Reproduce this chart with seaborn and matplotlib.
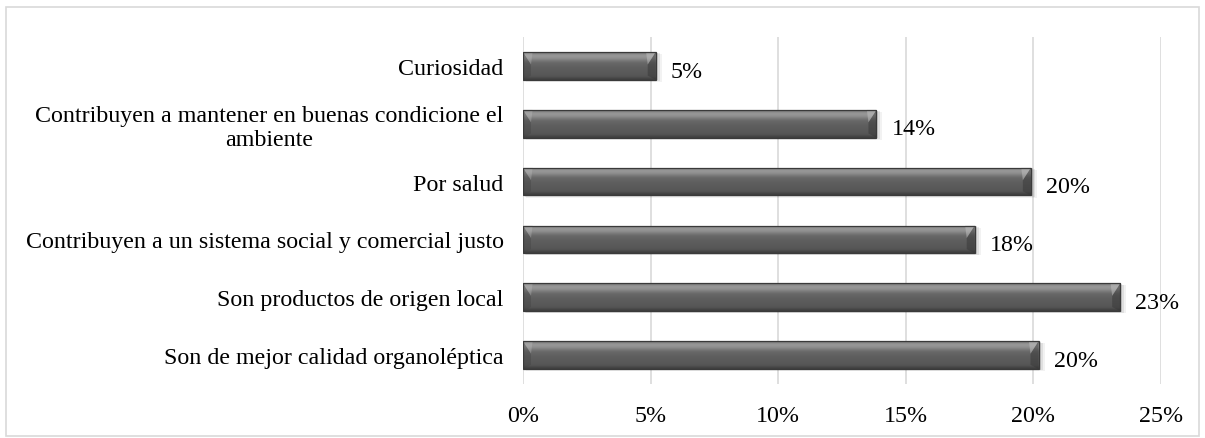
import numpy as np
import pandas as pd
import matplotlib
matplotlib.use("Agg")
import matplotlib.pyplot as plt
import seaborn as sns
from matplotlib.patches import Rectangle, Polygon

categories = [
    "Curiosidad",
    "Contribuyen a mantener en buenas condicione el\nambiente",
    "Por salud",
    "Contribuyen a un sistema social y comercial justo",
    "Son productos de origen local",
    "Son de mejor calidad organoléptica",
]
values = [5.2, 13.85, 19.9, 17.7, 23.4, 20.2]
value_labels = ["5%", "14%", "20%", "18%", "23%", "20%"]
xticks = [0, 5, 10, 15, 20, 25]
xtick_labels = ["0%", "5%", "10%", "15%", "20%", "25%"]

sns.set_theme(style="white")
plt.rcParams["font.family"] = ["Liberation Serif", "DejaVu Serif"]

FS = 17.3
df = pd.DataFrame({"cat": categories, "val": values})

fig = plt.figure(figsize=(12.05, 4.39), dpi=100)
ax = fig.add_axes([523 / 1205, 1 - 385 / 439, (1161 - 523) / 1205, (385 - 38) / 439])

sns.barplot(data=df, x="val", y="cat", ax=ax, color="#595959", width=0.48,
            saturation=1, edgecolor="none", zorder=3)

ax.set_xlim(0, 25)
ax.set_xticks(xticks)
ax.set_xticklabels(xtick_labels, fontsize=FS, color="#000000")
ax.tick_params(axis="x", pad=15, length=0)
ax.tick_params(axis="y", length=0, pad=14)
for lab in ax.get_yticklabels():
    lab.set_fontsize(FS)
    lab.set_multialignment("center")
    lab.set_linespacing(1.2)
    lab.set_color("#000000")
ax.set_xlabel("")
ax.set_ylabel("")
ax.grid(axis="x", color="#d9d9d9", linewidth=1.2, zorder=0)
for s in ax.spines.values():
    s.set_visible(False)

# gradient overlay for bevelled look
grad = np.array([0.50, 0.66, 0.64, 0.58, 0.48, 0.42, 0.40, 0.38, 0.37, 0.36,
                 0.35, 0.34, 0.32, 0.22]).reshape(-1, 1)
cmap = matplotlib.colors.LinearSegmentedColormap.from_list("g", ["#101010", "#e0e0e0"])
px = 25 / (1161 - 523)  # data units per pixel in x
for p, lbl in zip(ax.patches, value_labels):
    x0, y0 = p.get_x(), p.get_y()
    w, h = p.get_width(), p.get_height()
    # soft shadow
    for k, a in enumerate([0.10, 0.08, 0.05]):
        sh = Rectangle((x0 + (k + 1) * px, y0 + (k + 1) * 0.012), w + (k + 1) * px, h,
                       facecolor="#000000", alpha=a, edgecolor="none", zorder=2)
        ax.add_patch(sh)
    im = ax.imshow(grad, extent=(x0, x0 + w, y0 + h, y0), aspect="auto",
                   cmap=cmap, vmin=0, vmax=1, zorder=4, interpolation="bicubic")
    im.set_clip_path(p)
    bw = 8 * px
    lt = Polygon([[x0, y0], [x0 + bw, y0 + h * 0.45], [x0 + bw, y0 + h * 0.85], [x0, y0 + h]],
                 closed=True, facecolor="#404040", alpha=0.35, edgecolor="none", zorder=5)
    ltri = Polygon([[x0, y0], [x0 + bw * 1.2, y0], [x0 + bw, y0 + h * 0.45]],
                   closed=True, facecolor="#bdbdbd", alpha=0.35, edgecolor="none", zorder=5)
    rt = Polygon([[x0 + w, y0], [x0 + w - bw, y0 + h * 0.45], [x0 + w - bw, y0 + h * 0.85], [x0 + w, y0 + h]],
                 closed=True, facecolor="#333333", alpha=0.45, edgecolor="none", zorder=5)
    rtri = Polygon([[x0 + w, y0], [x0 + w - bw * 1.2, y0], [x0 + w - bw, y0 + h * 0.45]],
                   closed=True, facecolor="#c8c8c8", alpha=0.45, edgecolor="none", zorder=5)
    for poly in (lt, ltri, rt, rtri):
        ax.add_patch(poly)
    ax.add_patch(Rectangle((x0, y0), w, h, facecolor="none", edgecolor="#3a3a3a",
                           linewidth=0.9, zorder=6))
    ax.text(x0 + w + 0.6, y0 + h / 2 + 0.09, lbl, va="center", ha="left",
            fontsize=FS, color="#000000", zorder=7)

ax.set_ylim(len(categories) - 0.5, -0.5)

# outer border
fig.patches.append(Rectangle((6 / 1205, 1 - 437 / 439), (1199 - 6) / 1205, (437 - 8) / 439,
                             transform=fig.transFigure, facecolor="none",
                             edgecolor="#d9d9d9", linewidth=1.2))

fig.savefig("out.png", dpi=100, facecolor="white")
